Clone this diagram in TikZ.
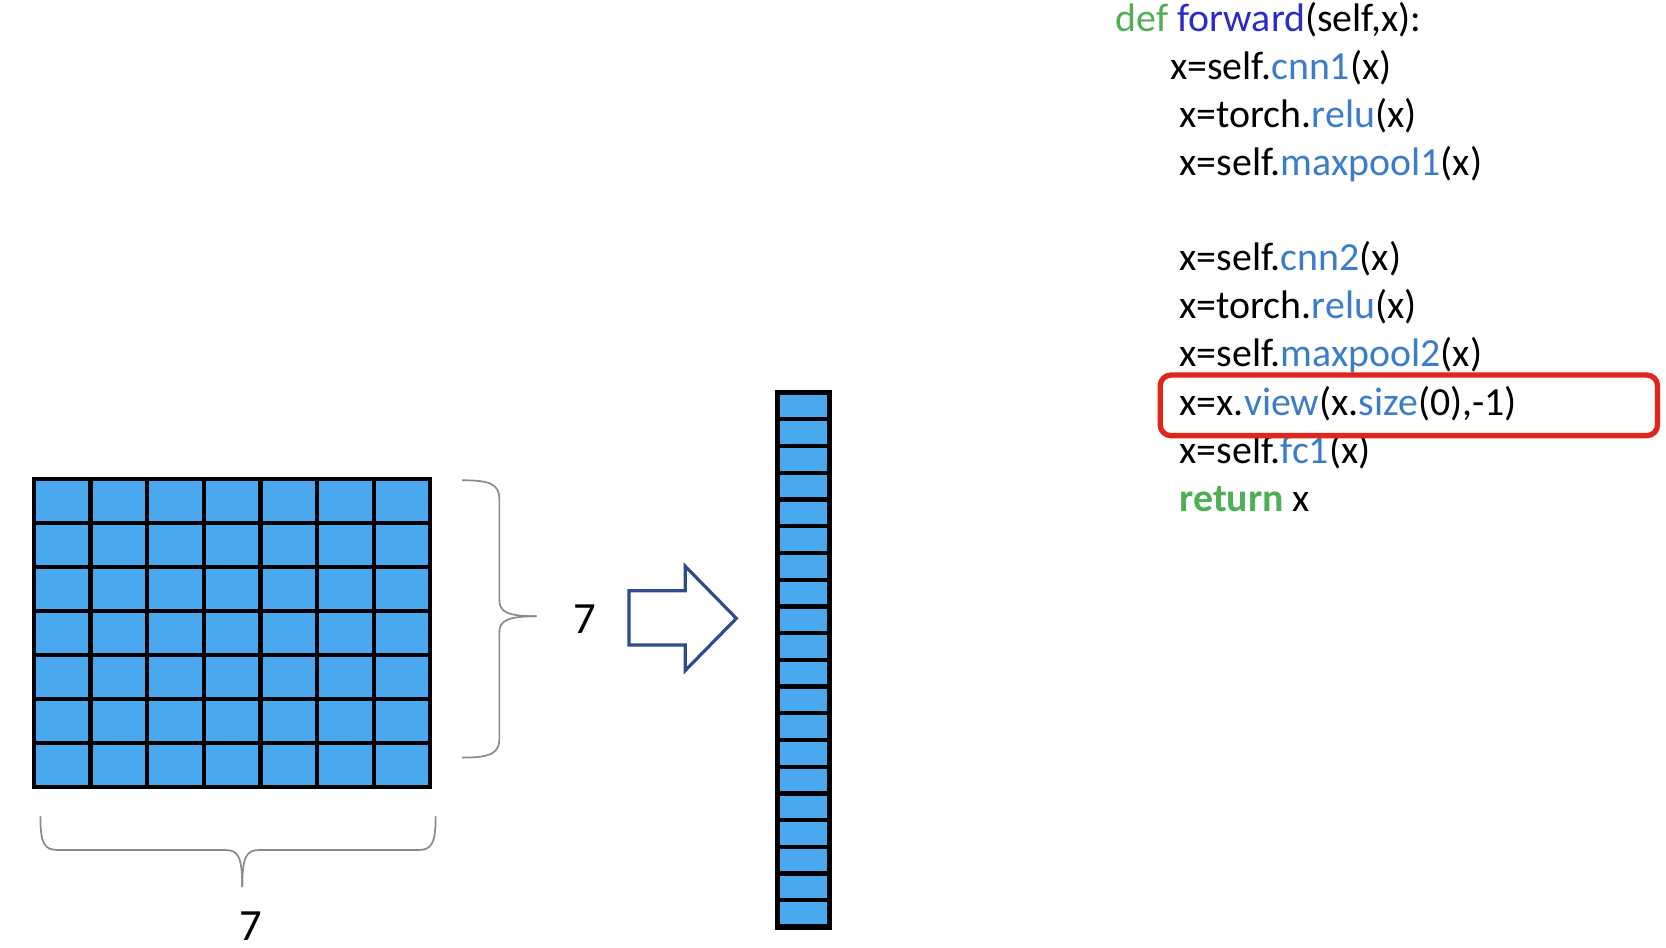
\documentclass[tikz,border=0pt]{standalone}
\usepackage{fontspec}
\setmainfont{Carlito}
\definecolor{cellblue}{HTML}{4AA8EE}
\definecolor{defgreen}{HTML}{4FAF55}
\definecolor{fwdblue}{HTML}{2B2BC8}
\definecolor{methblue}{HTML}{3B7DC8}
\definecolor{boxred}{HTML}{E0261B}
\definecolor{arrowblue}{HTML}{2F4B8C}
\definecolor{bracegray}{HTML}{8A8A8A}
\tikzset{
  code/.style={anchor=base west, inner sep=0pt, font=\fontsize{37.5}{44}\selectfont},
  dimlabel/.style={anchor=base, inner sep=0pt, font=\fontsize{42}{48}\selectfont},
  bracestyle/.style={draw=bracegray, line width=1.6pt},
  gridline/.style={draw=black, line width=4pt},
  cellblock/.style={draw=black, fill=cellblue, inner sep=0pt, outer sep=0pt, anchor=north west},
}
\newcommand{\mth}[1]{\textcolor{methblue}{#1}}
\begin{document}
\begin{tikzpicture}[x=1pt,y=-1pt]
\useasboundingbox (0,0) rectangle (1568,892);
\fill[white] (0,0) rectangle (1568,892);

% 7x7 grid
\node[cellblock, line width=4pt, minimum width=373pt, minimum height=290pt] (grid) at (32,451) {};
\foreach \i in {1,...,6} {
  \draw[gridline] (32+\i*53.286,451) -- (32+\i*53.286,741);
  \draw[gridline] (32,451+\i*41.43) -- (405,451+\i*41.43);
}

% right brace
\draw[bracestyle] (435,452) .. controls (462,452) and (470,456) .. (470,470)
  -- (470,565) .. controls (470,576) and (478,580) .. (505,580);
\draw[bracestyle] (435,713) .. controls (462,713) and (470,709) .. (470,695)
  -- (470,595) .. controls (470,584) and (478,580) .. (505,580);
\node[dimlabel] (rlab) at (550,596) {7};

% bottom brace
\draw[bracestyle] (38,768) .. controls (38,795) and (42,800) .. (55,800)
  -- (212,800) .. controls (224,800) and (228,806) .. (228,835);
\draw[bracestyle] (410,768) .. controls (410,795) and (406,800) .. (393,800)
  -- (244,800) .. controls (232,800) and (228,806) .. (228,835);
\node[dimlabel] (blab) at (236,885) {7};

% block arrow
\draw[arrowblue, line width=3pt, line join=miter] (592,556) -- (645,556) -- (645,533) -- (693,582) -- (645,631) -- (645,607) -- (592,607) -- cycle;
\coordinate (arrowtip) at (693,582);

% flattened column
\node[cellblock, line width=5pt, minimum width=49pt, minimum height=503pt] (col) at (731.5,369.5) {};
\foreach \j in {1,...,19} {
  \draw[gridline] (731.5,369.5+\j*25.15) -- (780.5,369.5+\j*25.15);
}

% code
\node[code] (l1) at (1050,30) {\textcolor{defgreen}{def} \textcolor{fwdblue}{forward}(self,x):};
\node[code] (l2) at (1101,75) {x=self.\mth{cnn1}(x)};
\node[code] (l3) at (1110,120) {x=torch.\mth{relu}(x)};
\node[code] (l4) at (1110,165) {x=self.\mth{maxpool1}(x)};
\node[code] (l5) at (1110,255) {x=self.\mth{cnn2}(x)};
\node[code] (l6) at (1110,300) {x=torch.\mth{relu}(x)};
\node[code] (l7) at (1110,345) {x=self.\mth{maxpool2}(x)};
\node[code] (l8) at (1110,391) {x=x.\mth{view}(x.\mth{size}(0),-1)};
\node[code] (l9) at (1110,436) {x=self.\mth{fc1}(x)};
\node[code] (l10) at (1110,481) {\textcolor{defgreen}{\bfseries return} x};

% highlight box
\draw[boxred, line width=5pt, rounded corners=10pt] (1092,353) rectangle (1560,410);
\end{tikzpicture}
\end{document}
